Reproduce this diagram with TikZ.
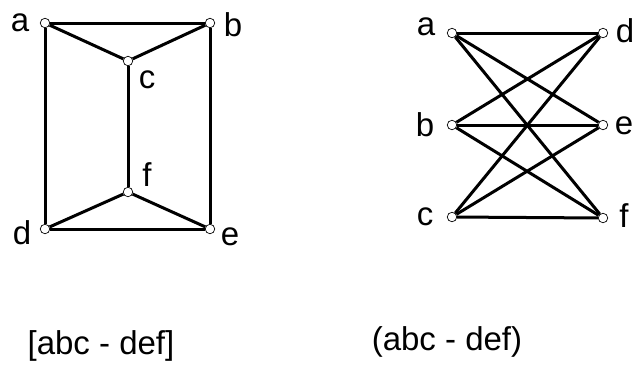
\documentclass[tikz,border=0pt]{standalone}
\usepackage{fontspec}
\setmainfont{Liberation Sans}
\usetikzlibrary{positioning}

\begin{document}
\begin{tikzpicture}[x=1pt, y=-1pt,
  vtx/.style={circle, draw, line width=0.7pt, fill=white, inner sep=0pt, minimum size=9.5pt},
  lbl/.style={font=\fontsize{33}{39}\selectfont, inner sep=0pt},
  edge/.style={line width=3pt}]
\useasboundingbox (0,0) rectangle (642,376);
% left graph
\foreach \n/\x/\y in {a/45/23, b/210/23, c/128/61, f/128/192, d/45/229, e/210/229}
  \node[vtx] (L\n) at (\x,\y) {};
\foreach \n/\x/\y in {a/20/23, b/233/25, c/147/80, f/147/175, d/22/233, e/230/237}
  \node[lbl] (Lt\n) at (\x,\y) {\n};
\foreach \u/\v in {a/b, a/c, b/c, a/d, b/e, c/f, d/f, e/f, d/e}
  \draw[edge] (L\u) -- (L\v);
% right graph
\foreach \n/\x/\y in {a/452/33, b/452/125, c/452/217, d/603/33, e/603/125, f/603/218}
  \node[vtx] (R\n) at (\x,\y) {};
\foreach \n/\x/\y in {a/426/27, b/425/125, c/425/217, d/625/31, e/624/126, f/624/216}
  \node[lbl] (Rt\n) at (\x,\y) {\n};
\foreach \u in {a,b,c} {
  \foreach \v in {d,e,f} {
    \draw[edge] (R\u) -- (R\v);
  }
}
% captions
\node[lbl] (capL) at (101,346) {[abc - def]};
\node[lbl] (capR) at (447,342) {(abc - def)};
\end{tikzpicture}
\end{document}
